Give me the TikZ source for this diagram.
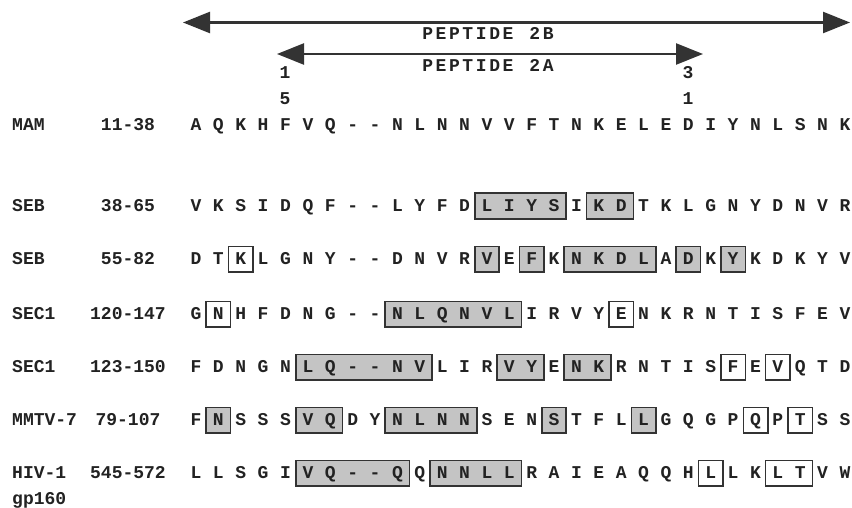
\documentclass[tikz,border=0pt]{standalone}
\usepackage{fontspec}
\setmonofont{Liberation Mono}
\usetikzlibrary{arrows.meta,backgrounds}
\definecolor{ink}{HTML}{222222}
\definecolor{boxline}{HTML}{333333}
\definecolor{shade}{HTML}{C4C4C4}
\newcommand\kk{\kern2.6pt}
\newcommand\seqrow[3]{\foreach \ch [count=\i] in {#3}{\node[res] (#1c\i) at ({196+(\i-1)*22.38},#2) {\ch};}}
\begin{document}
\begin{tikzpicture}[x=1pt,y=-1pt,
  txt/.style={font=\fontsize{18}{18}\selectfont\ttfamily\bfseries, text=ink, inner sep=0pt},
  res/.style={txt, text height=11.5pt, text depth=0pt, minimum width=24pt, minimum height=25pt, anchor=center},
  lbl/.style={txt, text height=11.5pt, text depth=0pt, anchor=west},
  rng/.style={txt, text height=11.5pt, text depth=0pt, anchor=center},
  shadebox/.style={draw=boxline, line width=1.6pt, fill=shade},
  openbox/.style={draw=boxline, line width=1.6pt, fill=white},
  spanarrow/.style={draw=black!80, line width=2.4pt, {Triangle[length=27pt,width=21pt]}-{Triangle[length=27pt,width=21pt]}}]
\useasboundingbox (0,0) rectangle (852,508);
% peptide arrows
\coordinate (b1) at (183,22.5);
\coordinate (b2) at (850,22.5);
\coordinate (a1) at (277,54);
\coordinate (a2) at (703,54);
\draw[spanarrow] (b1) -- (b2);
\draw[spanarrow] (a1) -- (a2);
\node[rng] (p2b) at (488,34) {P\kk E\kk P\kk T\kk I\kk D\kk E\kk\ \kk 2\kk B};
\node[rng] (p2a) at (488,65.5) {P\kk E\kk P\kk T\kk I\kk D\kk E\kk\ \kk 2\kk A};
\node[rng] (n1a) at (285,72.5) {1};
\node[rng] (n1b) at (285,98.5) {5};
\node[rng] (n2a) at (688,72.5) {3};
\node[rng] (n2b) at (688,99) {1};
% row labels
\node[lbl] (l0) at (12,125) {MAM};   \node[rng] (g0) at (128,125) {11-38};
\node[lbl] (l1) at (12,206) {SEB};   \node[rng] (g1) at (128,206) {38-65};
\node[lbl] (l2) at (12,259) {SEB};   \node[rng] (g2) at (128,259) {55-82};
\node[lbl] (l3) at (12,314) {SEC1};  \node[rng] (g3) at (128,314) {120-147};
\node[lbl] (l4) at (12,367) {SEC1};  \node[rng] (g4) at (128,367) {123-150};
\node[lbl] (l5) at (12,420) {MMTV-7};\node[rng] (g5) at (128,420) {79-107};
\node[lbl] (l6) at (12,473) {HIV-1}; \node[rng] (g6) at (128,473) {545-572};
\node[txt, anchor=base west] (l6b) at (12,504) {gp160};
% sequences
\seqrow{r0}{125}{A,Q,K,H,F,V,Q,-,-,N,L,N,N,V,V,F,T,N,K,E,L,E,D,I,Y,N,L,S,N,K}
\seqrow{r1}{206}{V,K,S,I,D,Q,F,-,-,L,Y,F,D,L,I,Y,S,I,K,D,T,K,L,G,N,Y,D,N,V,R}
\seqrow{r2}{259}{D,T,K,L,G,N,Y,-,-,D,N,V,R,V,E,F,K,N,K,D,L,A,D,K,Y,K,D,K,Y,V}
\seqrow{r3}{314}{G,N,H,F,D,N,G,-,-,N,L,Q,N,V,L,I,R,V,Y,E,N,K,R,N,T,I,S,F,E,V}
\seqrow{r4}{367}{F,D,N,G,N,L,Q,-,-,N,V,L,I,R,V,Y,E,N,K,R,N,T,I,S,F,E,V,Q,T,D}
\seqrow{r5}{420}{F,N,S,S,S,V,Q,D,Y,N,L,N,N,S,E,N,S,T,F,L,L,G,Q,G,P,Q,P,T,S,S}
\seqrow{r6}{473}{L,L,S,G,I,V,Q,-,-,Q,Q,N,N,L,L,R,A,I,E,A,Q,Q,H,L,L,K,L,T,V,W}
\begin{pgfonlayer}{background}
\fill[white] (0,0) rectangle (852,508);
% SEB 38-65
\draw[shadebox] (r1c14.north west) rectangle (r1c17.south east);
\draw[shadebox] (r1c19.north west) rectangle (r1c20.south east);
% SEB 55-82
\draw[openbox] (r2c3.north west) rectangle (r2c3.south east);
\draw[shadebox] (r2c14.north west) rectangle (r2c14.south east);
\draw[shadebox] (r2c16.north west) rectangle (r2c16.south east);
\draw[shadebox] (r2c18.north west) rectangle (r2c21.south east);
\draw[shadebox] (r2c23.north west) rectangle (r2c23.south east);
\draw[shadebox] (r2c25.north west) rectangle (r2c25.south east);
% SEC1 120-147
\draw[openbox] (r3c2.north west) rectangle (r3c2.south east);
\draw[shadebox] (r3c10.north west) rectangle (r3c15.south east);
\draw[openbox] (r3c20.north west) rectangle (r3c20.south east);
% SEC1 123-150
\draw[shadebox] (r4c6.north west) rectangle (r4c11.south east);
\draw[shadebox] (r4c15.north west) rectangle (r4c16.south east);
\draw[shadebox] (r4c18.north west) rectangle (r4c19.south east);
\draw[openbox] (r4c25.north west) rectangle (r4c25.south east);
\draw[openbox] (r4c27.north west) rectangle (r4c27.south east);
% MMTV-7
\draw[shadebox] (r5c2.north west) rectangle (r5c2.south east);
\draw[shadebox] (r5c6.north west) rectangle (r5c7.south east);
\draw[shadebox] (r5c10.north west) rectangle (r5c13.south east);
\draw[shadebox] (r5c17.north west) rectangle (r5c17.south east);
\draw[shadebox] (r5c21.north west) rectangle (r5c21.south east);
\draw[openbox] (r5c26.north west) rectangle (r5c26.south east);
\draw[openbox] (r5c28.north west) rectangle (r5c28.south east);
% HIV-1
\draw[shadebox] (r6c6.north west) rectangle (r6c10.south east);
\draw[shadebox] (r6c12.north west) rectangle (r6c15.south east);
\draw[openbox] (r6c24.north west) rectangle (r6c24.south east);
\draw[openbox] (r6c27.north west) rectangle (r6c28.south east);
\end{pgfonlayer}
\end{tikzpicture}
\end{document}
